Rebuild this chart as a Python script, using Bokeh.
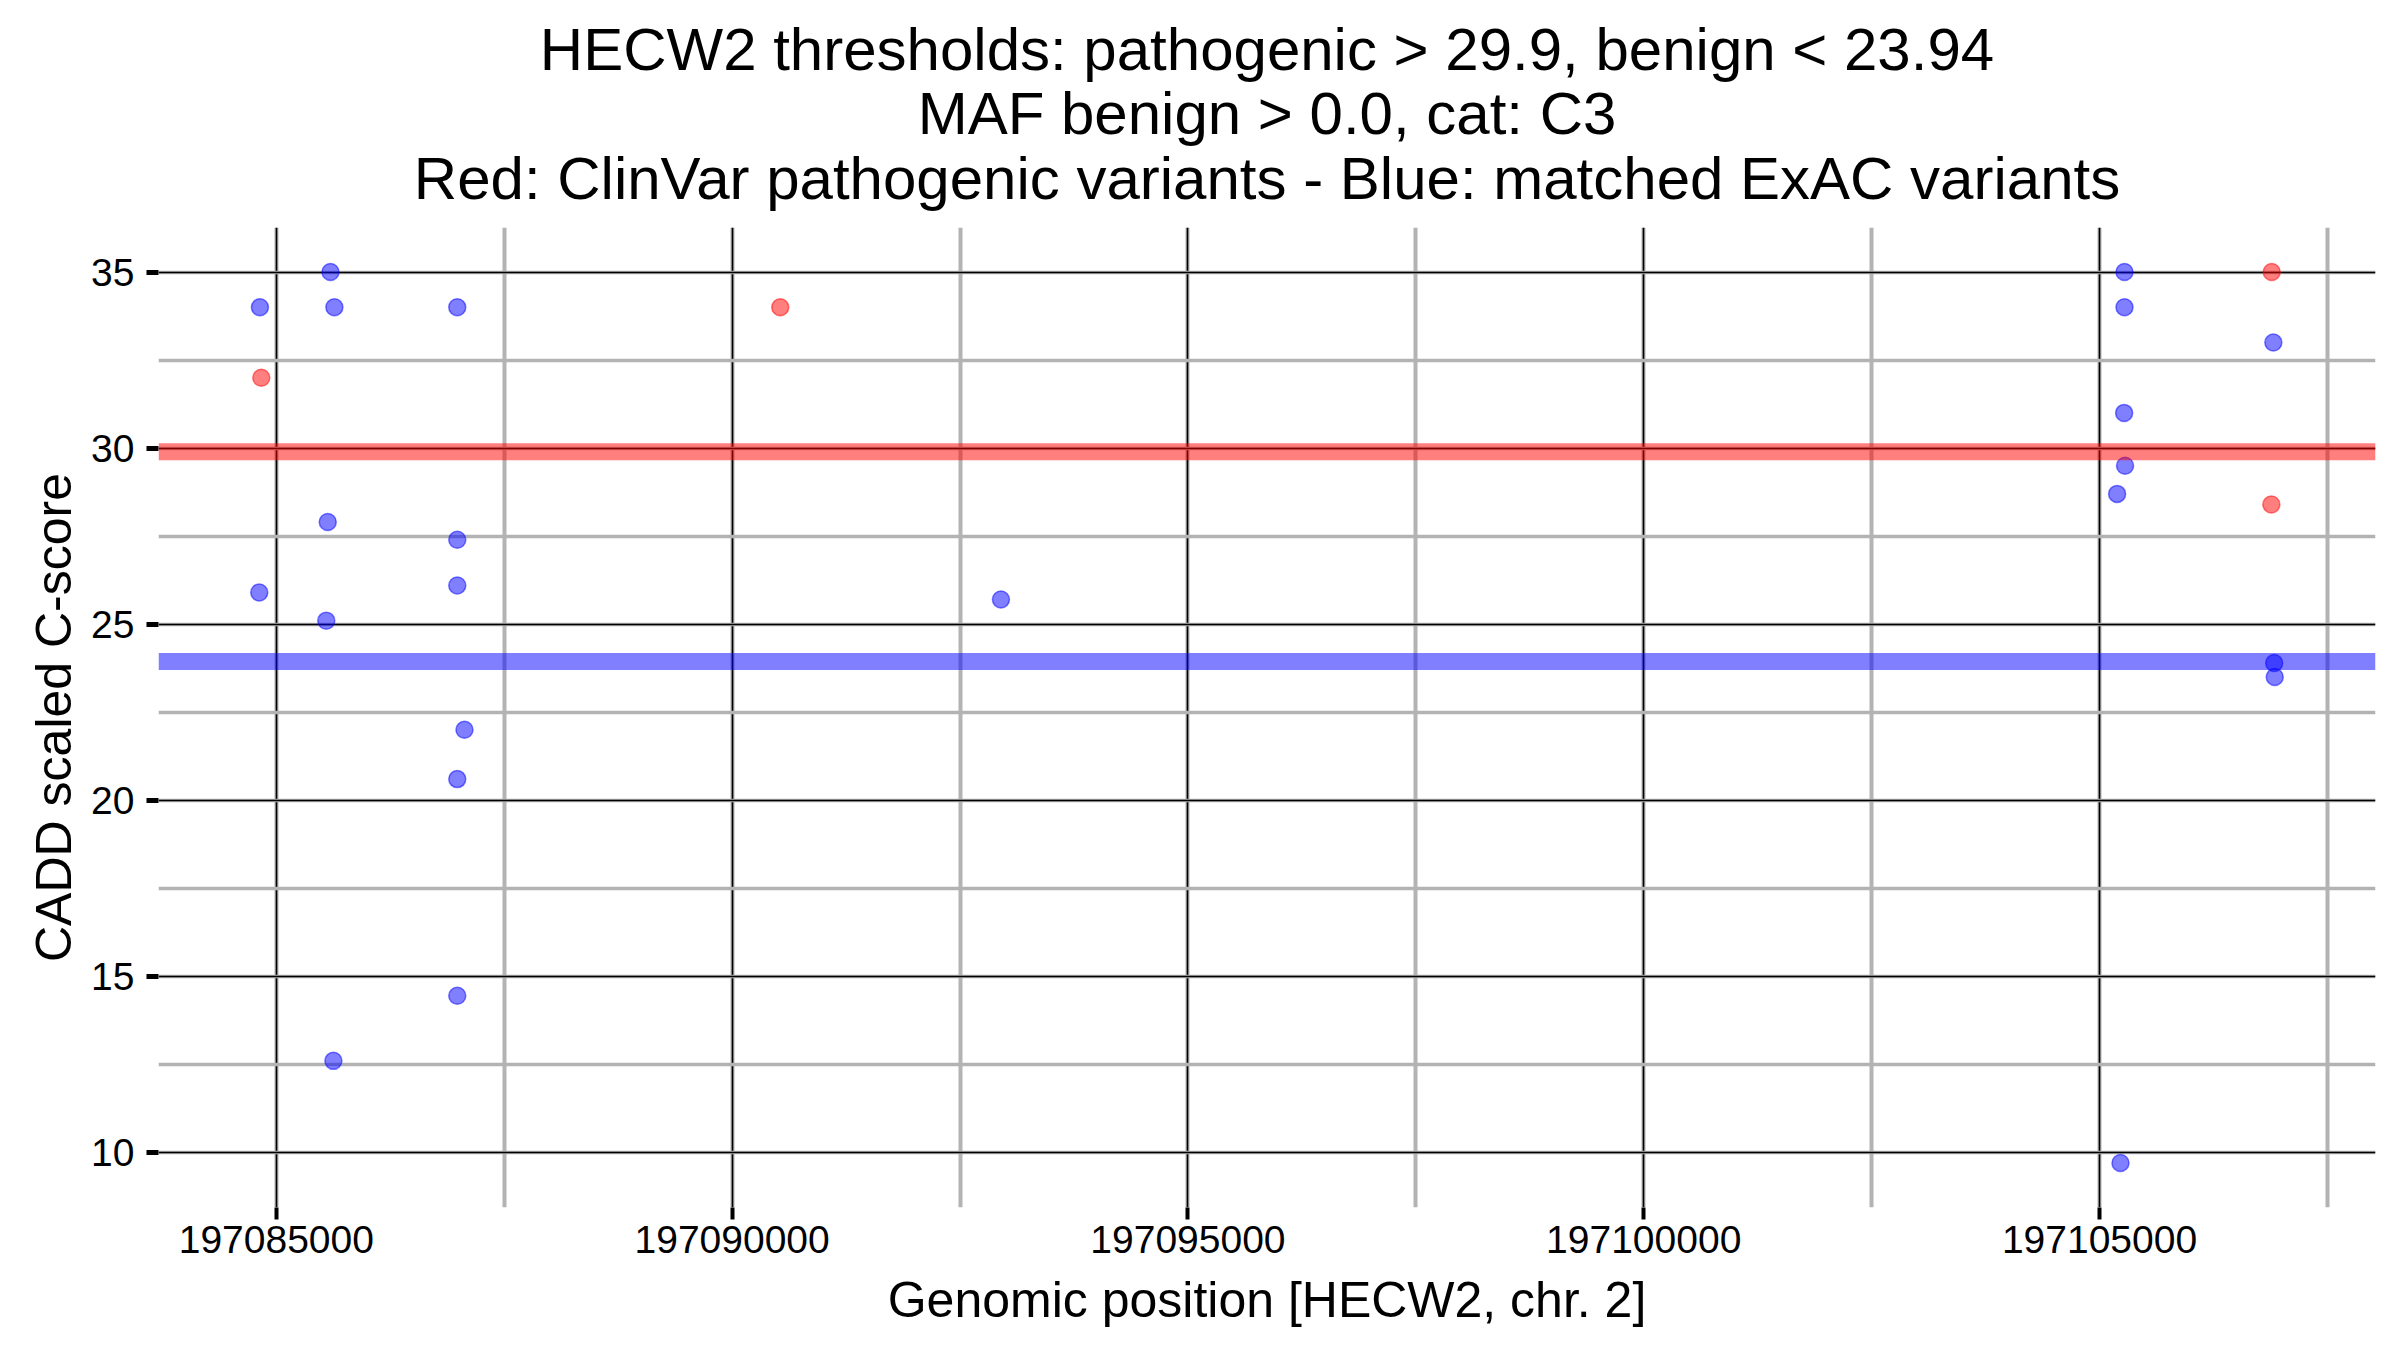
import numpy as np
from bokeh.plotting import figure
from bokeh.layouts import column
from bokeh.models import Span, Label, SingleIntervalTicker, BasicTickFormatter, Range1d
from bokeh.embed import file_html
from bokeh.resources import INLINE

# ---- data ----
clinvar_pos = [197084835, 197090528, 197106889, 197106885]
clinvar_cadd = [32.0, 34.0, 35.0, 28.4]

exac_pos = [197084820, 197085594, 197085637, 197086985, 197084813, 197085564,
            197085548, 197086985, 197086985, 197087064, 197086985, 197086985,
            197085626, 197092949, 197105274, 197105274, 197105270, 197105280,
            197105193, 197105230, 197106907, 197106916, 197106922]
exac_cadd = [34.0, 35.0, 34.0, 34.0, 25.9, 27.9,
             25.1, 27.4, 26.1, 22.0, 20.6, 14.45,
             12.6, 25.7, 35.0, 34.0, 31.0, 29.5,
             28.7, 9.7, 33.0, 23.9, 23.5]

pathogenic_threshold = 29.9
benign_threshold = 23.94

title_lines = ["HECW2 thresholds: pathogenic > 29.9, benign < 23.94",
               "MAF benign > 0.0, cat: C3",
               "Red: ClinVar pathogenic variants - Blue: matched ExAC variants"]
x_label = "Genomic position [HECW2, chr. 2]"
y_label = "CADD scaled C-score"

FONT = "Liberation Sans"

# ---- ranges with 5% expansion ----
all_x = clinvar_pos + exac_pos
all_y = clinvar_cadd + exac_cadd
xpad = 0.05 * (max(all_x) - min(all_x))
ypad = 0.05 * (max(all_y) - min(all_y))

W = 2400
TITLE_H = 227
H = 1350 - TITLE_H
ML, MR, MB = 158, 25, 143

# ---- title strip ----
t = figure(width=W, height=TITLE_H, output_backend="svg", toolbar_location=None,
           x_range=Range1d(0, 1), y_range=Range1d(0, 1),
           x_axis_location=None, y_axis_location=None,
           min_border_left=ML, min_border_right=MR, min_border_top=0, min_border_bottom=0,
           background_fill_color="white", border_fill_color="white")
t.outline_line_color = None
t.grid.visible = False
frame_w = W - ML - MR
baselines = [178, 114, 49]   # screen px above the strip's bottom
for txt, yb in zip(title_lines, baselines):
    t.add_layout(Label(x=frame_w / 2, y=yb, x_units="screen", y_units="screen",
                       text=txt, text_align="center", text_baseline="alphabetic",
                       text_font=FONT, text_font_size="60px", text_color="black"))

# ---- main plot ----
p = figure(width=W, height=H, output_backend="svg", toolbar_location=None,
           x_range=Range1d(min(all_x) - xpad, max(all_x) + xpad),
           y_range=Range1d(min(all_y) - ypad, max(all_y) + ypad),
           min_border_left=ML, min_border_right=MR, min_border_top=0, min_border_bottom=MB,
           background_fill_color="white", border_fill_color="white")
p.outline_line_color = None

p.xaxis.ticker = SingleIntervalTicker(interval=5000, num_minor_ticks=2)
p.yaxis.ticker = SingleIntervalTicker(interval=5, num_minor_ticks=2)
p.xaxis.formatter = BasicTickFormatter(use_scientific=False)

for ax in (p.xaxis[0], p.yaxis[0]):
    ax.axis_line_color = None
    ax.minor_tick_line_color = None
    ax.major_tick_in = 0
    ax.major_tick_out = 12
    ax.major_tick_line_color = "black"
    ax.major_label_text_font = FONT
    ax.major_label_text_font_size = "39px"
    ax.major_label_text_color = "black"
    ax.axis_label_text_font = FONT
    ax.axis_label_text_font_size = "50px"
    ax.axis_label_text_font_style = "normal"
    ax.axis_label_text_color = "black"

p.xaxis.major_tick_line_width = 4
p.yaxis.major_tick_line_width = 5
p.xaxis.major_label_standoff = 6
p.yaxis.major_label_standoff = 12
p.xaxis.axis_label_standoff = 16
p.yaxis.axis_label_standoff = 6
p.xaxis.axis_label = x_label
p.yaxis.axis_label = y_label

p.xgrid.grid_line_color = "black"
p.xgrid.grid_line_width = 1.6
p.ygrid.grid_line_color = "black"
p.ygrid.grid_line_width = 1.3
p.xgrid.minor_grid_line_color = "#b3b3b3"
p.xgrid.minor_grid_line_width = 4
p.ygrid.minor_grid_line_color = "#b3b3b3"
p.ygrid.minor_grid_line_width = 3.3

# points
p.scatter(exac_pos, exac_cadd, size=17, fill_color="blue", fill_alpha=0.5,
          line_color="blue", line_alpha=0.5, line_width=1.5)
p.scatter(clinvar_pos, clinvar_cadd, size=17, fill_color="red", fill_alpha=0.5,
          line_color="red", line_alpha=0.5, line_width=1.5)

# threshold bands
p.add_layout(Span(location=pathogenic_threshold, dimension="width",
                  line_color="red", line_alpha=0.5, line_width=17))
p.add_layout(Span(location=benign_threshold, dimension="width",
                  line_color="blue", line_alpha=0.5, line_width=17))

layout = column(t, p, spacing=0)
open("out.html", "w").write(file_html(layout, INLINE))
